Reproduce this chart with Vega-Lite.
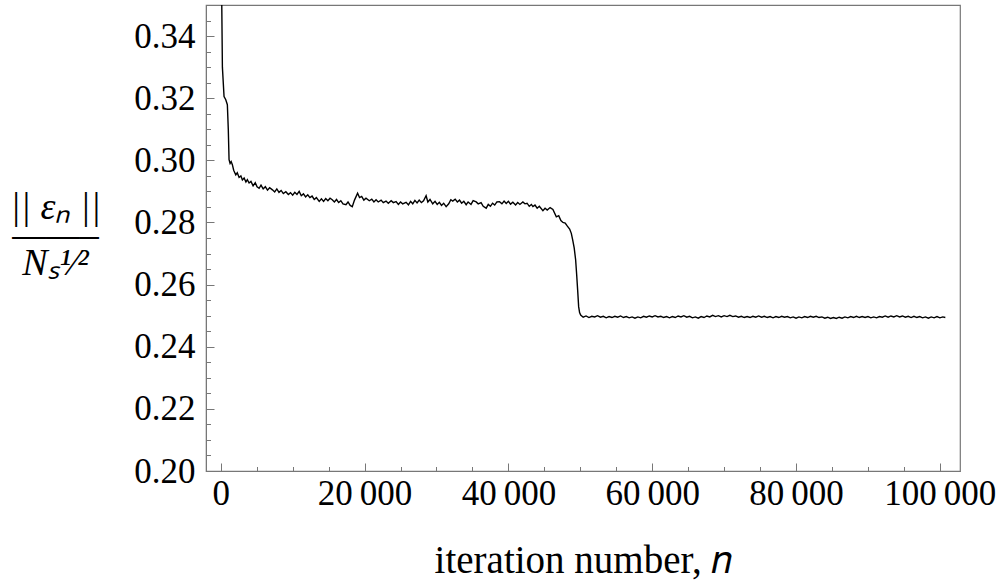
{
  "$schema": "https://vega.github.io/schema/vega-lite/v6.json",
  "width": 754,
  "height": 466,
  "autosize": "none",
  "padding": {"left": 206, "top": 5, "right": 48, "bottom": 109},
  "background": "white",
  "config": {
    "view": {"stroke": "#777", "strokeWidth": 1.2},
    "axis": {
      "labelColor": "black",
      "titleColor": "black",
      "domainColor": "#777",
      "tickColor": "#777",
      "grid": false
    }
  },
  "data": {"values": [
    {"n": 0, "e": 0.52}, {"n": 100, "e": 0.36}, {"n": 230, "e": 0.330}, {"n": 460, "e": 0.3205}, {"n": 700, "e": 0.3195}, {"n": 920, "e": 0.3179}, {"n": 1050, "e": 0.3100}, {"n": 1156, "e": 0.3002},
    {"n": 1300, "e": 0.2990}, {"n": 1450, "e": 0.2996}, {"n": 1616, "e": 0.2986}, {"n": 1800, "e": 0.2968}, {"n": 2090, "e": 0.2953}, {"n": 2300, "e": 0.2960}, {"n": 2550, "e": 0.2945}, {"n": 2800, "e": 0.2950}, {"n": 3009, "e": 0.2937}, {"n": 3250, "e": 0.2943}, {"n": 3500, "e": 0.2930}, {"n": 3700, "e": 0.2938}, {"n": 3942, "e": 0.2927}, {"n": 4200, "e": 0.2932}, {"n": 4500, "e": 0.2918}, {"n": 4800, "e": 0.2928}, {"n": 5050, "e": 0.2915}, {"n": 5335, "e": 0.2910}, {"n": 5600, "e": 0.2920}, {"n": 5900, "e": 0.2908}, {"n": 6200, "e": 0.2915}, {"n": 6500, "e": 0.2904}, {"n": 6800, "e": 0.2912}, {"n": 7188, "e": 0.2905}, {"n": 7500, "e": 0.2898}, {"n": 7800, "e": 0.2908}, {"n": 8100, "e": 0.2897}, {"n": 8400, "e": 0.2903}, {"n": 8700, "e": 0.2893}, {"n": 9054, "e": 0.2899}, {"n": 9400, "e": 0.2890}, {"n": 9700, "e": 0.2896}, {"n": 10000, "e": 0.2888}, {"n": 10300, "e": 0.2897}, {"n": 10600, "e": 0.2890}, {"n": 10907, "e": 0.2900}, {"n": 11200, "e": 0.2886}, {"n": 11500, "e": 0.2892}, {"n": 11800, "e": 0.2882}, {"n": 12100, "e": 0.2889}, {"n": 12400, "e": 0.2880}, {"n": 12700, "e": 0.2885}, {"n": 13000, "e": 0.2874}, {"n": 13300, "e": 0.2880}, {"n": 13693, "e": 0.2868}, {"n": 14000, "e": 0.2876}, {"n": 14300, "e": 0.2868}, {"n": 14600, "e": 0.2877}, {"n": 14900, "e": 0.2870}, {"n": 15200, "e": 0.2878}, {"n": 15504, "e": 0.2873}, {"n": 15800, "e": 0.2866}, {"n": 16100, "e": 0.2874}, {"n": 16400, "e": 0.2864}, {"n": 16700, "e": 0.2870}, {"n": 17000, "e": 0.2860}, {"n": 17412, "e": 0.2857}, {"n": 17700, "e": 0.2866}, {"n": 18000, "e": 0.2855}, {"n": 18290, "e": 0.2851}, {"n": 18600, "e": 0.2872}, {"n": 19029, "e": 0.2894}, {"n": 19300, "e": 0.2880}, {"n": 19600, "e": 0.2884}, {"n": 19900, "e": 0.2872}, {"n": 20200, "e": 0.2878}, {"n": 20658, "e": 0.2870}, {"n": 21000, "e": 0.2875}, {"n": 21300, "e": 0.2866}, {"n": 21600, "e": 0.2873}, {"n": 21900, "e": 0.2866}, {"n": 22300, "e": 0.2872}, {"n": 22600, "e": 0.2864}, {"n": 22985, "e": 0.2869}, {"n": 23300, "e": 0.2862}, {"n": 23700, "e": 0.2870}, {"n": 24000, "e": 0.2864}, {"n": 24378, "e": 0.2867},
    {"n": 24700, "e": 0.2858}, {"n": 25000, "e": 0.2866}, {"n": 25300, "e": 0.2860}, {"n": 25770, "e": 0.2865}, {"n": 26100, "e": 0.2857}, {"n": 26400, "e": 0.2868}, {"n": 26700, "e": 0.2860}, {"n": 27000, "e": 0.2871}, {"n": 27300, "e": 0.2863}, {"n": 27600, "e": 0.2872}, {"n": 27900, "e": 0.2864}, {"n": 28200, "e": 0.2870}, {"n": 28557, "e": 0.2886}, {"n": 28800, "e": 0.2866}, {"n": 29100, "e": 0.2874}, {"n": 29476, "e": 0.2860}, {"n": 29800, "e": 0.2868}, {"n": 30100, "e": 0.2858}, {"n": 30400, "e": 0.2865}, {"n": 30700, "e": 0.2855}, {"n": 31000, "e": 0.2862}, {"n": 31343, "e": 0.2851}, {"n": 31700, "e": 0.2860}, {"n": 32000, "e": 0.2873}, {"n": 32262, "e": 0.2869}, {"n": 32600, "e": 0.2875}, {"n": 32900, "e": 0.2866}, {"n": 33200, "e": 0.2872}, {"n": 33500, "e": 0.2862}, {"n": 33800, "e": 0.2868}, {"n": 34129, "e": 0.2857}, {"n": 34400, "e": 0.2866}, {"n": 34800, "e": 0.2858}, {"n": 35100, "e": 0.2870}, {"n": 35522, "e": 0.2866}, {"n": 35800, "e": 0.2860}, {"n": 36200, "e": 0.2864}, {"n": 36500, "e": 0.2852}, {"n": 36915, "e": 0.2846}, {"n": 37200, "e": 0.2858}, {"n": 37500, "e": 0.2852}, {"n": 37800, "e": 0.2862}, {"n": 38100, "e": 0.2856}, {"n": 38400, "e": 0.2866}, {"n": 38767, "e": 0.2867}, {"n": 39100, "e": 0.2860}, {"n": 39400, "e": 0.2869}, {"n": 39700, "e": 0.2861}, {"n": 40000, "e": 0.2868}, {"n": 40300, "e": 0.2859}, {"n": 40620, "e": 0.2865}, {"n": 41000, "e": 0.2856}, {"n": 41300, "e": 0.2864}, {"n": 41600, "e": 0.2858}, {"n": 42013, "e": 0.2866}, {"n": 42300, "e": 0.2860}, {"n": 42600, "e": 0.2862}, {"n": 42900, "e": 0.2852}, {"n": 43200, "e": 0.2858}, {"n": 43406, "e": 0.2851}, {"n": 43700, "e": 0.2856}, {"n": 44000, "e": 0.2846}, {"n": 44300, "e": 0.2852}, {"n": 44799, "e": 0.2838}, {"n": 45100, "e": 0.2846}, {"n": 45400, "e": 0.2840}, {"n": 45800, "e": 0.2848}, {"n": 46192, "e": 0.2842}, {"n": 46666, "e": 0.2818}, {"n": 47000, "e": 0.2822}, {"n": 47300, "e": 0.2806}, {"n": 47585, "e": 0.2800}, {"n": 47900, "e": 0.2798}, {"n": 48200, "e": 0.2788}, {"n": 48518, "e": 0.2779}, {"n": 48750, "e": 0.2765}, {"n": 48940, "e": 0.2744}, {"n": 49150, "e": 0.2718}, {"n": 49350, "e": 0.2680}, {"n": 49500, "e": 0.2630}, {"n": 49630, "e": 0.2583}, {"n": 49770, "e": 0.2529}, {"n": 49900, "e": 0.2510}, {"n": 50050, "e": 0.2502},
    {"n": 50400, "e": 0.2495}, {"n": 50800, "e": 0.2499}, {"n": 51200, "e": 0.2494}, {"n": 51600, "e": 0.2498}, {"n": 52000, "e": 0.2496}, {"n": 52400, "e": 0.2500}, {"n": 52800, "e": 0.2495}, {"n": 53200, "e": 0.2498}, {"n": 53600, "e": 0.2493}, {"n": 54000, "e": 0.2497}, {"n": 54400, "e": 0.2494}, {"n": 54800, "e": 0.2498}, {"n": 55200, "e": 0.2495}, {"n": 55600, "e": 0.2499}, {"n": 56000, "e": 0.2494}, {"n": 56400, "e": 0.2497}, {"n": 56800, "e": 0.2493}, {"n": 57200, "e": 0.2496}, {"n": 57600, "e": 0.2492}, {"n": 58000, "e": 0.2496}, {"n": 58400, "e": 0.2493}, {"n": 58800, "e": 0.2498}, {"n": 59200, "e": 0.2495}, {"n": 59600, "e": 0.2499}, {"n": 60000, "e": 0.2496}, {"n": 60400, "e": 0.2500}, {"n": 60800, "e": 0.2496}, {"n": 61200, "e": 0.2498}, {"n": 61600, "e": 0.2494}, {"n": 62000, "e": 0.2497}, {"n": 62400, "e": 0.2493}, {"n": 62800, "e": 0.2497}, {"n": 63200, "e": 0.2494}, {"n": 63600, "e": 0.2499}, {"n": 64000, "e": 0.2496}, {"n": 64400, "e": 0.2500}, {"n": 64800, "e": 0.2495}, {"n": 65200, "e": 0.2498}, {"n": 65600, "e": 0.2493}, {"n": 66000, "e": 0.2496}, {"n": 66400, "e": 0.2492}, {"n": 66800, "e": 0.2497}, {"n": 67200, "e": 0.2494}, {"n": 67600, "e": 0.2499}, {"n": 68000, "e": 0.2496}, {"n": 68400, "e": 0.2501}, {"n": 68800, "e": 0.2497}, {"n": 69200, "e": 0.2500}, {"n": 69600, "e": 0.2496}, {"n": 70000, "e": 0.2500}, {"n": 70400, "e": 0.2497}, {"n": 70800, "e": 0.2501}, {"n": 71200, "e": 0.2497}, {"n": 71600, "e": 0.2499}, {"n": 72000, "e": 0.2495}, {"n": 72400, "e": 0.2498}, {"n": 72800, "e": 0.2494}, {"n": 73200, "e": 0.2497}, {"n": 73600, "e": 0.2494}, {"n": 74000, "e": 0.2498}, {"n": 74400, "e": 0.2495}, {"n": 74800, "e": 0.2499}, {"n": 75200, "e": 0.2495}, {"n": 75600, "e": 0.2498}, {"n": 76000, "e": 0.2494}, {"n": 76400, "e": 0.2497}, {"n": 76800, "e": 0.2493}, {"n": 77200, "e": 0.2497}, {"n": 77600, "e": 0.2494}, {"n": 78000, "e": 0.2498}, {"n": 78400, "e": 0.2495}, {"n": 78800, "e": 0.2497}, {"n": 79200, "e": 0.2493}, {"n": 79600, "e": 0.2496}, {"n": 80000, "e": 0.2492}, {"n": 80400, "e": 0.2496}, {"n": 80800, "e": 0.2493}, {"n": 81200, "e": 0.2497}, {"n": 81600, "e": 0.2494}, {"n": 82000, "e": 0.2498}, {"n": 82400, "e": 0.2495}, {"n": 82800, "e": 0.2498}, {"n": 83200, "e": 0.2494}, {"n": 83600, "e": 0.2496}, {"n": 84000, "e": 0.2492}, {"n": 84400, "e": 0.2495}, {"n": 84800, "e": 0.2491}, {"n": 85200, "e": 0.2494}, {"n": 85600, "e": 0.2491}, {"n": 86000, "e": 0.2495}, {"n": 86400, "e": 0.2492}, {"n": 86800, "e": 0.2496}, {"n": 87200, "e": 0.2493}, {"n": 87600, "e": 0.2497}, {"n": 88000, "e": 0.2494}, {"n": 88400, "e": 0.2498}, {"n": 88800, "e": 0.2494}, {"n": 89200, "e": 0.2497}, {"n": 89600, "e": 0.2494}, {"n": 90000, "e": 0.2497}, {"n": 90400, "e": 0.2493}, {"n": 90800, "e": 0.2496}, {"n": 91200, "e": 0.2493}, {"n": 91600, "e": 0.2497}, {"n": 92000, "e": 0.2495}, {"n": 92400, "e": 0.2499}, {"n": 92800, "e": 0.2495}, {"n": 93200, "e": 0.2499}, {"n": 93600, "e": 0.2496}, {"n": 94000, "e": 0.2500}, {"n": 94400, "e": 0.2496}, {"n": 94800, "e": 0.2499}, {"n": 95200, "e": 0.2495}, {"n": 95600, "e": 0.2498}, {"n": 96000, "e": 0.2494}, {"n": 96400, "e": 0.2498}, {"n": 96800, "e": 0.2494}, {"n": 97200, "e": 0.2497}, {"n": 97600, "e": 0.2493}, {"n": 98000, "e": 0.2496}, {"n": 98400, "e": 0.2492}, {"n": 98800, "e": 0.2496}, {"n": 99200, "e": 0.2493}, {"n": 99600, "e": 0.2497}, {"n": 100000, "e": 0.2493}, {"n": 100400, "e": 0.2496}, {"n": 100760, "e": 0.2494}
  ]},
  "mark": {"type": "line", "color": "black", "strokeWidth": 1.4, "clip": true, "interpolate": "linear"},
  "encoding": {
    "x": {
      "field": "n", "type": "quantitative",
      "scale": {"domain": [-2050, 102800], "nice": false, "zero": false},
      "axis": {
        "values": [0, 5000, 10000, 15000, 20000, 25000, 30000, 35000, 40000, 45000, 50000, 55000, 60000, 65000, 70000, 75000, 80000, 85000, 90000, 95000, 100000],
        "labelExpr": "datum.value % 20000 === 0 ? replace(format(datum.value, ',d'), ',', '\u2009') : ''",
        "labelFont": "Liberation Serif",
        "labelFontSize": 35,
        "labelOverlap": false,
        "labelFlush": false,
        "labelPadding": 13,
        "tickSize": {"condition": {"test": "datum.value % 20000 === 0", "value": -8}, "value": -4.5},
        "tickWidth": 1,
        "title": "iteration number, 𝑛",
        "titleFont": "Liberation Serif",
        "titleFontSize": 39,
        "titleFontWeight": "normal",
        "titlePadding": 27
      }
    },
    "y": {
      "field": "e", "type": "quantitative",
      "scale": {"domain": [0.2, 0.35], "nice": false, "zero": false},
      "axis": {
        "values": [0.2, 0.205, 0.21, 0.215, 0.22, 0.225, 0.23, 0.235, 0.24, 0.245, 0.25, 0.255, 0.26, 0.265, 0.27, 0.275, 0.28, 0.285, 0.29, 0.295, 0.3, 0.305, 0.31, 0.315, 0.32, 0.325, 0.33, 0.335, 0.34, 0.345, 0.35],
        "labelExpr": "abs(datum.value * 50 - round(datum.value * 50)) < 1e-6 ? format(datum.value, '.2f') : ''",
        "labelFont": "Liberation Serif",
        "labelFontSize": 35,
        "labelOverlap": false,
        "labelFlush": false,
        "labelPadding": 19,
        "tickSize": {"condition": {"test": "abs(datum.value * 50 - round(datum.value * 50)) < 1e-6", "value": -8}, "value": -4.5},
        "tickWidth": 1,
        "title": ["|| εₙ ||", "——–", "Nₛ¹⁄²"],
        "titleFont": "Liberation Serif",
        "titleAngle": 0,
        "titleAlign": "center",
        "titleBaseline": "middle",
        "titleX": -151,
        "titleY": 202,
        "titleFontSize": 38,
        "titleFontStyle": "italic",
        "titleFontWeight": "normal",
        "titleLineHeight": 28
      }
    }
  }
}
